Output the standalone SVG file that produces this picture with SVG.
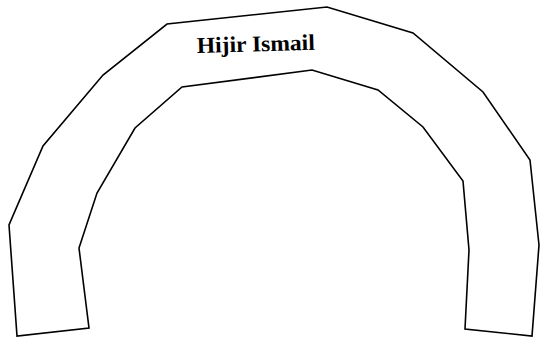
<svg xmlns="http://www.w3.org/2000/svg" width="540" height="338" viewBox="0 0 540 338">
<style>
.arch{fill:none;stroke:#000;stroke-width:1.6;stroke-linejoin:miter}
.lbl{font-family:"Liberation Serif","Times New Roman",serif;font-weight:bold;font-size:22.5px;fill:#000}
</style>
<rect width="540" height="338" fill="#fff"/>
<g id="arch">
<polygon class="arch" points="17,336 9,225 43,146 103,75 167,24 327,7 413,33 483,92 530,160 539,245 532,336 465,329 469,250 463,181 423,127 378,90 312,70 182,87 135,128 97,193 79,248 89,328"/>
</g>
<g id="label">
<text class="lbl" x="197" y="53" textLength="118" lengthAdjust="spacingAndGlyphs" transform="rotate(-1.6 197 53)">Hijir Ismail</text>
</g>
</svg>
